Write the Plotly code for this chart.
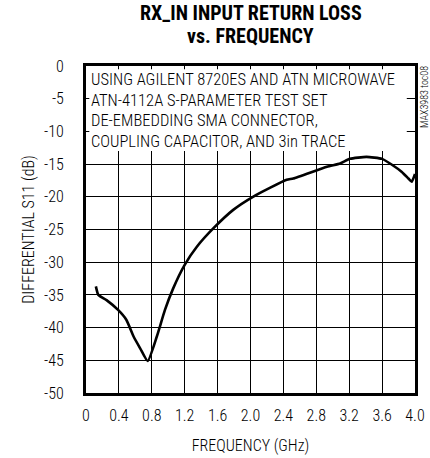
import plotly.graph_objects as go

# ---- data ----
freq_ghz = [0.12, 0.15, 0.25, 0.39, 0.49, 0.58, 0.66, 0.75, 0.86, 0.96, 1.06, 1.2,
            1.35, 1.55, 1.79, 2.03, 2.44, 2.52, 2.93, 3.09, 3.21, 3.41, 3.6, 3.72,
            3.84, 3.92, 3.96, 4.0]
s11_db = [-33.7, -35.0, -35.8, -37.3, -38.8, -41.4, -43.2, -45.1, -41.4, -37.3, -34.0, -30.4,
          -27.6, -24.8, -22.0, -20.0, -17.4, -17.2, -15.4, -14.9, -14.2, -13.9, -14.2, -15.1,
          -16.2, -17.2, -17.7, -16.5]

x_tickvals = [0, 0.4, 0.8, 1.2, 1.6, 2.0, 2.4, 2.8, 3.2, 3.6, 4.0]
x_ticktext = ["0", "0.4", "0.8", "1.2", "1.6", "2.0", "2.4", "2.8", "3.2", "3.6", "4.0"]
y_tickvals = [0, -5, -10, -15, -20, -25, -30, -35, -40, -45, -50]
y_ticktext = ["0", "-5", "-10", "-15", "-20", "-25", "-30", "-35", "-40", "-45", "-50"]

note_lines = ["USING AGILENT 8720ES AND ATN MICROWAVE",
              "ATN-4112A S-PARAMETER TEST SET",
              "DE-EMBEDDING SMA CONNECTOR,",
              "COUPLING CAPACITOR, AND 3in TRACE"]
title_lines = ["RX_IN INPUT RETURN LOSS", "vs. FREQUENCY"]

FONT = "Roboto Condensed, Liberation Sans Narrow, Arial Narrow, sans-serif"
L, R, T, B = 86, 15, 66, 65
PH = 458 - T - B
PW = 430 - L - R


def px(xp):
    return (xp - L) / PW


def py(yp):
    return (458 - B - yp) / PH


fig = go.Figure()
fig.add_trace(go.Scatter(x=freq_ghz, y=s11_db, mode="lines",
                         line=dict(color="black", width=2.6, shape="spline", smoothing=0.5),
                         showlegend=False, hoverinfo="skip"))

# white box behind the note (covers grid)
fig.add_shape(type="rect", xref="x", yref="y", x0=0.04, x1=3.9, y0=-13.0, y1=-0.5,
              fillcolor="white", line=dict(width=0), layer="between")

for line, yp in zip(note_lines, [79, 100, 120, 141]):
    fig.add_annotation(text=line, xref="paper", yref="paper",
                       x=px(89), y=py(yp), xanchor="left", yanchor="middle",
                       showarrow=False,
                       font=dict(family=FONT, size=16.5, color="black", weight=300))

for line, yp in zip(title_lines, [13, 36]):
    fig.add_annotation(text=line, xref="paper", yref="paper",
                       x=0.5, y=py(yp), xanchor="center", yanchor="middle",
                       showarrow=False,
                       font=dict(family=FONT, size=20, color="black", weight="bold"))

fig.add_annotation(text="MAX3983 toc08", xref="paper", yref="paper",
                   x=px(424), y=py(97), textangle=-90,
                   xanchor="center", yanchor="middle", showarrow=False,
                   font=dict(family=FONT, size=10, color="black", weight=300))

fig.update_layout(
    width=430, height=458,
    margin=dict(l=L, r=R, t=T, b=B),
    paper_bgcolor="white", plot_bgcolor="white",
    font=dict(family=FONT, size=16, color="black", weight=300),
    xaxis=dict(range=[0, 4], tickvals=x_tickvals, ticktext=x_ticktext,
               showgrid=True, gridcolor="black", gridwidth=1,
               showline=True, linecolor="black", linewidth=3, mirror=True,
               zeroline=False, ticks="", ticklabelstandoff=6, automargin=False,
               tickfont=dict(size=16),
               title=dict(text="FREQUENCY (GHz)", standoff=16, font=dict(size=16))),
    yaxis=dict(range=[-50, 0], tickvals=y_tickvals, ticktext=y_ticktext,
               showgrid=True, gridcolor="black", gridwidth=1,
               showline=True, linecolor="black", linewidth=3, mirror=True,
               zeroline=False, ticks="", ticklabelstandoff=16, automargin=False,
               tickfont=dict(size=16),
               title=dict(text="DIFFERENTIAL S11 (dB)", standoff=6, font=dict(size=16))),
)

fig.write_html("out.html", config={"displayModeBar": False},
               post_script="document.body.style.margin='0';")
